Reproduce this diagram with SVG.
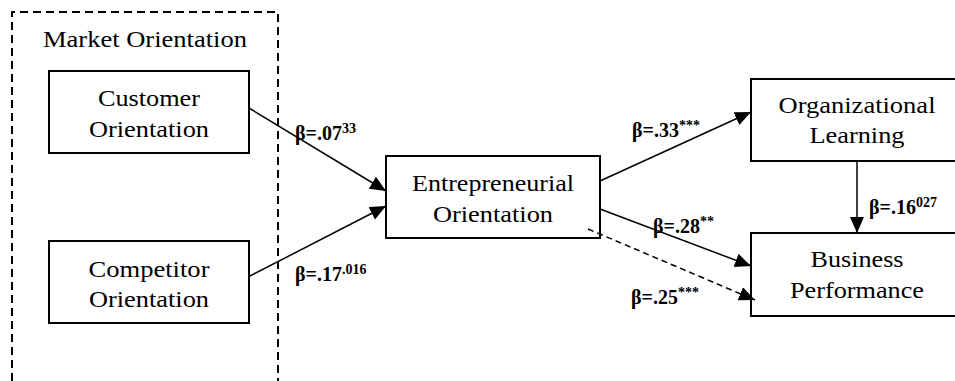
<svg xmlns="http://www.w3.org/2000/svg" width="955" height="381" viewBox="0 0 955 381">
  <defs>
    <marker id="arrow" markerUnits="userSpaceOnUse" markerWidth="17" markerHeight="15" refX="16" refY="7" orient="auto">
      <path d="M0,0 L16,7 L0,14 Z" fill="#000000"/>
    </marker>
  </defs>

  <!-- dashed enclosure for the market orientation constructs -->
  <g id="market-orientation" font-family="'Liberation Serif', serif" font-size="24" fill="#000000">
    <path d="M12,381 V12 H278 V381" fill="none" stroke="#000000" stroke-width="2" stroke-dasharray="8 5"/>
    <text x="43" y="47" textLength="204" lengthAdjust="spacingAndGlyphs">Market Orientation</text>
  </g>

  <!-- construct boxes: white rect with two centred lines of text -->
  <g font-family="'Liberation Serif', serif" font-size="24" text-anchor="middle" stroke-width="2">
    <g id="customer-orientation">
      <rect x="49" y="71" width="200" height="82" fill="#ffffff" stroke="#000000"/>
      <text x="149" y="106" textLength="102" lengthAdjust="spacingAndGlyphs">Customer</text>
      <text x="149" y="137" textLength="120" lengthAdjust="spacingAndGlyphs">Orientation</text>
    </g>

    <g id="competitor-orientation">
      <rect x="49" y="241" width="200" height="82" fill="#ffffff" stroke="#000000"/>
      <text x="149" y="277" textLength="121" lengthAdjust="spacingAndGlyphs">Competitor</text>
      <text x="149" y="307" textLength="120" lengthAdjust="spacingAndGlyphs">Orientation</text>
    </g>

    <g id="entrepreneurial-orientation">
      <rect x="386" y="156" width="214" height="82" fill="#ffffff" stroke="#000000"/>
      <text x="493" y="191" textLength="162" lengthAdjust="spacingAndGlyphs">Entrepreneurial</text>
      <text x="493" y="222" textLength="120" lengthAdjust="spacingAndGlyphs">Orientation</text>
    </g>

    <g id="organizational-learning">
      <rect x="751" y="79" width="212" height="82" fill="#ffffff" stroke="#000000"/>
      <text x="857" y="113" textLength="157" lengthAdjust="spacingAndGlyphs">Organizational</text>
      <text x="857" y="143" textLength="95" lengthAdjust="spacingAndGlyphs">Learning</text>
    </g>

    <g id="business-performance">
      <rect x="751" y="233" width="212" height="83" fill="#ffffff" stroke="#000000"/>
      <text x="857" y="267" textLength="93" lengthAdjust="spacingAndGlyphs">Business</text>
      <text x="857" y="298" textLength="134" lengthAdjust="spacingAndGlyphs">Performance</text>
    </g>
  </g>

  <g id="connectors" fill="none" stroke="#000000" stroke-width="1.5">
    <line x1="249" y1="108" x2="386" y2="191" marker-end="url(#arrow)"/>
    <line x1="250" y1="276" x2="386" y2="206" marker-end="url(#arrow)"/>
    <line x1="600" y1="181" x2="751" y2="112" marker-end="url(#arrow)"/>
    <line x1="600" y1="209" x2="751" y2="266" marker-end="url(#arrow)"/>
    <line x1="588" y1="229" x2="755" y2="300" stroke-dasharray="6 4" marker-end="url(#arrow)"/>
    <line x1="857" y1="161" x2="857" y2="233" marker-end="url(#arrow)"/>
  </g>

  <!-- path coefficients, bold with superscript significance -->
  <g id="coefficients" font-family="'Liberation Serif', serif" font-size="20" font-weight="bold" fill="#000000">
    <text x="295" y="140">β=.07<tspan font-size="14" dy="-7">33</tspan></text>
    <text x="295" y="281">β=.17<tspan font-size="14" dy="-7">.016</tspan></text>
    <text x="632" y="137">β=.33<tspan font-size="14" dy="-7">***</tspan></text>
    <text x="653" y="233">β=.28<tspan font-size="14" dy="-7">**</tspan></text>
    <text x="631" y="304">β=.25<tspan font-size="14" dy="-7">***</tspan></text>
    <text x="869" y="214">β=.16<tspan font-size="14" dy="-7">027</tspan></text>
  </g>
</svg>
